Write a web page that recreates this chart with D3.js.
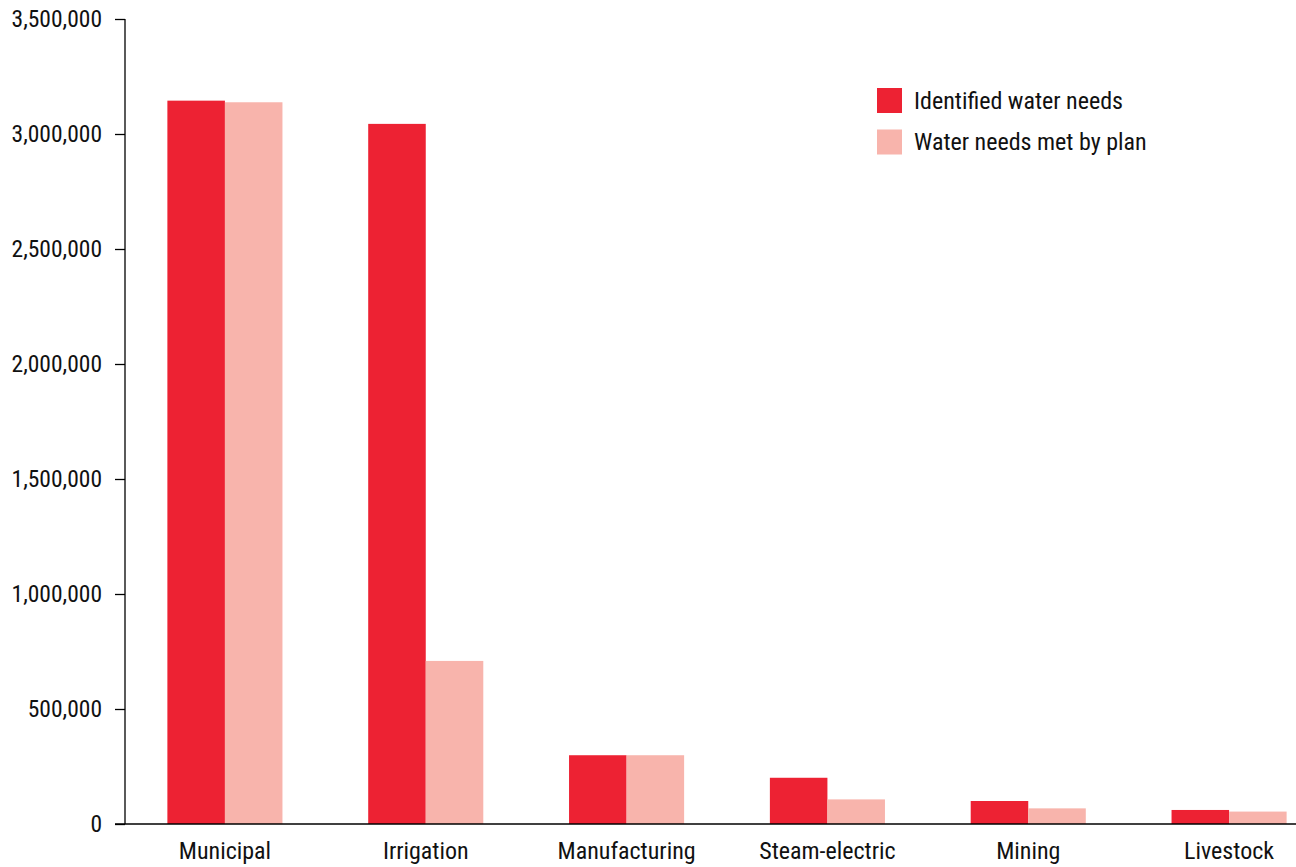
<!DOCTYPE html>
<html>
<head>
<meta charset="utf-8">
<script src="https://cdn.jsdelivr.net/npm/d3@7"></script>
<style>
  html, body { margin: 0; padding: 0; background: #fff; }
  svg { display: block; }
  text { font-family: "Roboto Condensed", "Liberation Sans Narrow", "Roboto", sans-serif; fill: #111; }
</style>
</head>
<body>
<svg id="chart" width="1296" height="867"></svg>
<script>
const categories = ["Municipal", "Irrigation", "Manufacturing", "Steam-electric", "Mining", "Livestock"];
const seriesNames = ["Identified water needs", "Water needs met by plan"];
const identifiedNeeds = [3145000, 3044000, 299000, 201000, 100000, 61000];
const needsMet = [3138000, 709000, 299000, 107000, 68000, 54000];
const yTicks = [0, 500000, 1000000, 1500000, 2000000, 2500000, 3000000, 3500000];
const colors = ["#ED2233", "#F8B4AC"];

(function () {
const svg = d3.select("#chart");
const mLeft = 125, mBottom = 824, mTop = 19, axisRight = 1296;
const FONT = '"Roboto Condensed", "Liberation Sans Narrow", "Roboto", sans-serif';

const x = d3.scaleBand().domain(categories).range([124.5, 1329.5]).paddingInner(0.427).paddingOuter(0.2135);
const x1 = d3.scaleBand().domain([0, 1]).range([0, x.bandwidth()]);
const y = d3.scaleLinear().domain([0, 3500000]).range([mBottom, mTop]);

const data = categories.map((c, i) => ({ cat: c, vals: [identifiedNeeds[i], needsMet[i]] }));

const groups = svg.append("g").selectAll("g").data(data).join("g")
  .attr("transform", d => `translate(${x(d.cat)},0)`);
groups.selectAll("rect").data(d => d.vals.map((v, k) => ({ v, k }))).join("rect")
  .attr("x", d => x1(d.k))
  .attr("width", x1.bandwidth())
  .attr("y", d => y(d.v))
  .attr("height", d => mBottom - y(d.v))
  .attr("fill", d => colors[d.k]);

// Y axis
const yAxis = d3.axisLeft(y).tickValues(yTicks).tickSize(10).tickPadding(13)
  .tickFormat(d3.format(","));
const yg = svg.append("g").attr("transform", `translate(${mLeft},0)`).call(yAxis);
yg.select(".domain").remove();
yg.append("line").attr("x1", 0).attr("x2", 0).attr("y1", mTop).attr("y2", mBottom).attr("stroke", "#000").attr("stroke-width", 1.3);
yg.selectAll(".tick line").attr("stroke", "#000").attr("stroke-width", 1.3);
yg.selectAll(".tick text").attr("font-size", 23.5).attr("fill", "#111").style("font-family", FONT);

// X axis
const xAxis = d3.axisBottom(x).tickSize(0).tickPadding(18);
const xg = svg.append("g").attr("transform", `translate(0,${mBottom})`).call(xAxis);
xg.select(".domain").remove();
xg.append("line").attr("x1", mLeft - 10).attr("x2", axisRight).attr("y1", 0).attr("y2", 0).attr("stroke", "#000").attr("stroke-width", 1.3);
xg.selectAll(".tick text").attr("font-size", 24).attr("fill", "#111").style("font-family", FONT);

// Legend
const legend = svg.append("g").attr("transform", "translate(877,88)");
const li = legend.selectAll("g").data(seriesNames).join("g")
  .attr("transform", (d, i) => `translate(0,${i * 41.5})`);
li.append("rect").attr("width", 25).attr("height", 25).attr("fill", (d, i) => colors[i]);
li.append("text").attr("x", 37).attr("y", 12.5).attr("dy", "0.35em").attr("font-size", 24).style("font-family", FONT).text(d => d);
})();
</script>
</body>
</html>
